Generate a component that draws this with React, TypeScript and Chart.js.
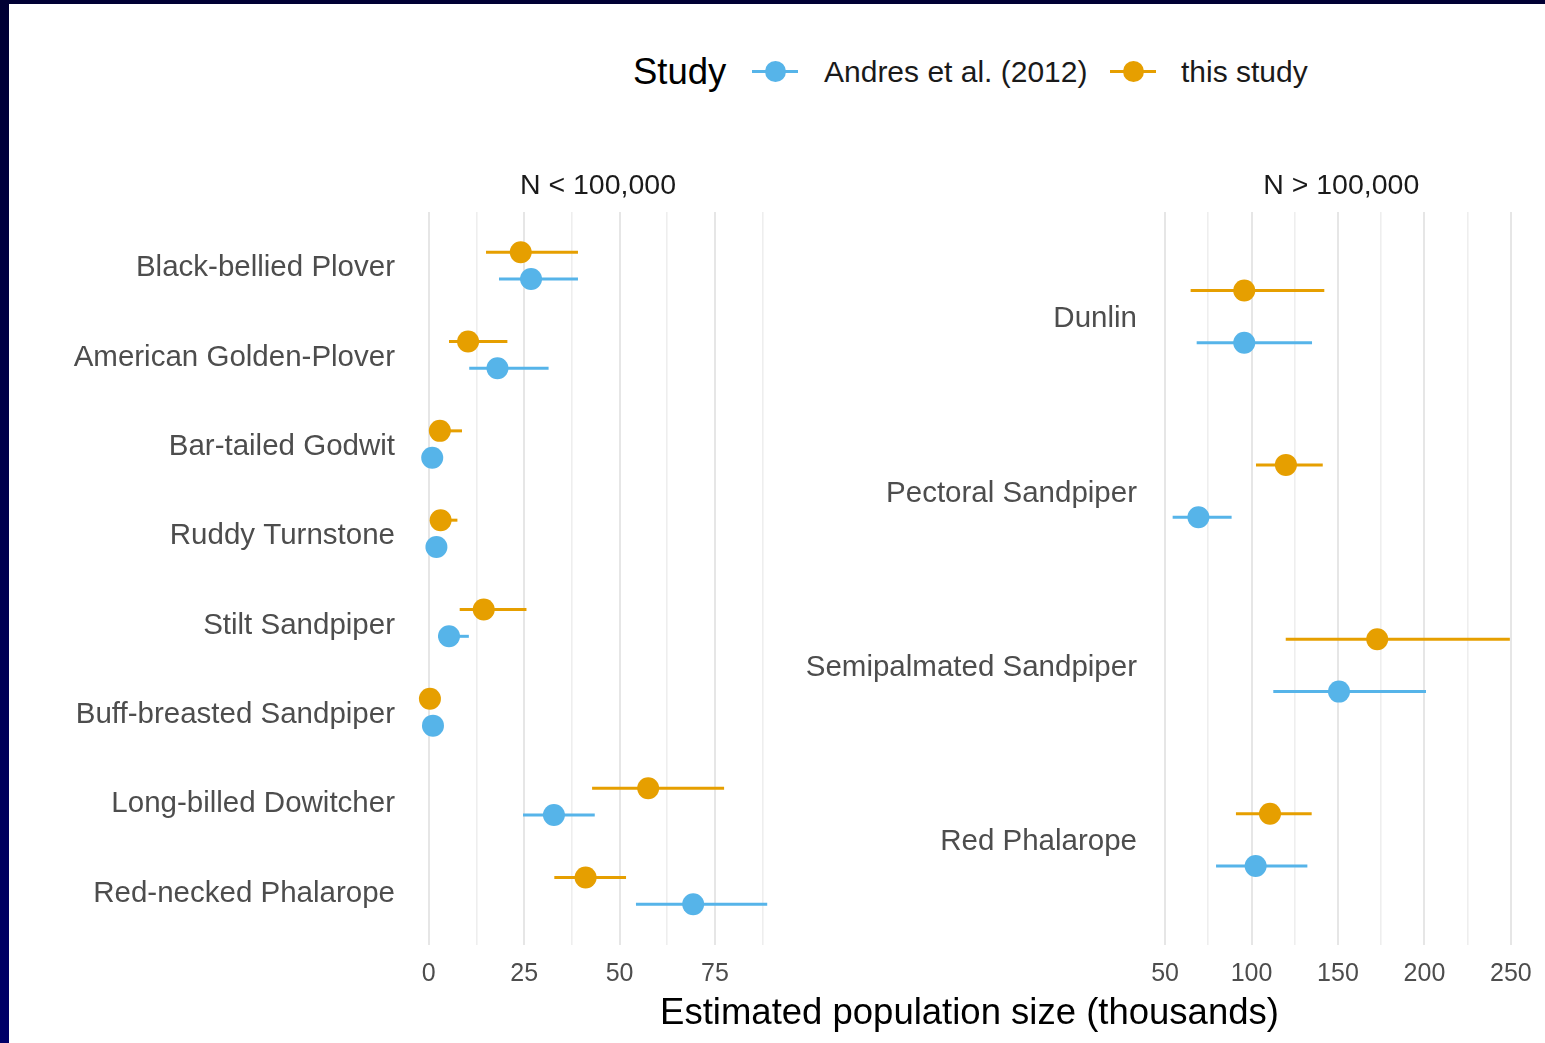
import React, { useEffect, useRef } from 'react';
import { Chart, registerables } from 'chart.js';

Chart.register(...registerables);

const FONT = "'Liberation Sans', Arial, Helvetica, sans-serif";
const BLUE = '#56B4E9';
const ORANGE = '#E69F00';

// ---- data (thousands) ----
const leftSpecies = [
  'Black-bellied Plover',
  'American Golden-Plover',
  'Bar-tailed Godwit',
  'Ruddy Turnstone',
  'Stilt Sandpiper',
  'Buff-breasted Sandpiper',
  'Long-billed Dowitcher',
  'Red-necked Phalarope',
];
const leftAndres = [26.8, 18.0, 0.9, 2.0, 5.3, 1.1, 32.8, 69.3];
const leftAndresLo = [18.4, 10.6, 0.5, 1.5, 2.5, 0.8, 24.7, 54.3];
const leftAndresHi = [39.1, 31.4, 1.3, 2.5, 10.5, 1.4, 43.5, 88.7];
const leftThis = [24.1, 10.3, 2.9, 3.1, 14.4, 0.3, 57.5, 41.1];
const leftThisLo = [15.0, 5.3, 1.0, 1.5, 8.1, 0.1, 42.8, 32.9];
const leftThisHi = [39.1, 20.6, 8.7, 7.5, 25.6, 0.6, 77.4, 51.7];

const rightSpecies = ['Dunlin', 'Pectoral Sandpiper', 'Semipalmated Sandpiper', 'Red Phalarope'];
const rightAndres = [95.8, 69.3, 150.6, 102.4];
const rightAndresLo = [68.3, 54.4, 112.6, 79.5];
const rightAndresHi = [135.0, 88.5, 200.9, 132.3];
const rightThis = [95.8, 119.9, 172.7, 110.7];
const rightThisLo = [64.8, 102.6, 119.8, 91.0];
const rightThisHi = [142.1, 141.2, 249.4, 134.8];

const leftMajorTicks = [0, 25, 50, 75];
const leftMinorTicks = [12.5, 37.5, 62.5, 87.5];
const rightMajorTicks = [50, 100, 150, 200, 250];
const rightMinorTicks = [75, 125, 175, 225];
const leftRange = [-4.4, 93.1];
const rightRange = [44.6, 259.2];

const facetTitles = ['N < 100,000', 'N > 100,000'];
const legendTitle = 'Study';
const legendLabels = ['Andres et al. (2012)', 'this study'];
const xTitle = 'Estimated population size (thousands)';

const DODGE = 0.15;

const errorBarPlugin = {
  id: 'errorBars',
  beforeDatasetsDraw(chart: any) {
    const { ctx } = chart;
    const xs = chart.scales.x;
    const ys = chart.scales.y;
    chart.data.datasets.forEach((ds: any) => {
      ctx.save();
      ctx.strokeStyle = ds.backgroundColor;
      ctx.lineWidth = 3;
      ctx.lineCap = 'butt';
      ds.data.forEach((p: any, i: number) => {
        const y = ys.getPixelForValue(p.y);
        ctx.beginPath();
        ctx.moveTo(xs.getPixelForValue(ds.errLo[i]), y);
        ctx.lineTo(xs.getPixelForValue(ds.errHi[i]), y);
        ctx.stroke();
      });
      ctx.restore();
    });
  },
};

type PanelProps = {
  species: string[];
  andres: number[];
  andresLo: number[];
  andresHi: number[];
  thisv: number[];
  thisLo: number[];
  thisHi: number[];
  majors: number[];
  minors: number[];
  range: number[];
  title: string;
  left: number;
  top: number;
  width: number;
  height: number;
  yAxisWidth: number;
  padRight: number;
  labelPad: number;
  plotBottom: number;
};

function Panel(p: PanelProps) {
  const ref = useRef<HTMLCanvasElement | null>(null);
  useEffect(() => {
    if (!ref.current) return;
    const all = [...p.majors, ...p.minors].sort((a, b) => a - b);
    const chart = new Chart(ref.current, {
      type: 'scatter',
      data: {
        datasets: [
          {
            label: legendLabels[0],
            data: p.andres.map((v, i) => ({ x: v, y: i + DODGE })),
            errLo: p.andresLo,
            errHi: p.andresHi,
            backgroundColor: BLUE,
            borderWidth: 0,
            pointRadius: 11,
            pointHoverRadius: 11,
            clip: false,
          } as any,
          {
            label: legendLabels[1],
            data: p.thisv.map((v, i) => ({ x: v, y: i - DODGE })),
            errLo: p.thisLo,
            errHi: p.thisHi,
            backgroundColor: ORANGE,
            borderWidth: 0,
            pointRadius: 11,
            pointHoverRadius: 11,
            clip: false,
          } as any,
        ],
      },
      options: {
        animation: false,
        responsive: false,
        events: [],
        layout: { autoPadding: false, padding: { left: 0, right: p.padRight, top: 0, bottom: 0 } },
        plugins: {
          legend: { display: false },
          tooltip: { enabled: false },
          title: {
            display: true,
            text: p.title,
            fullSize: false,
            color: '#1a1a1a',
            font: { family: FONT, size: 28.5, weight: 'normal', lineHeight: 1.2 },
            padding: { top: 18.6, bottom: 9.2 },
          },
        },
        scales: {
          x: {
            type: 'linear',
            min: p.range[0],
            max: p.range[1],
            afterBuildTicks: (scale: any) => {
              scale.ticks = all.map((v) => ({ value: v }));
            },
            afterFit: (scale: any) => {
              scale.height = p.height - p.plotBottom;
              scale.paddingLeft = 0;
              scale.paddingRight = 0;
            },
            ticks: {
              autoSkip: false,
              maxRotation: 0,
              padding: 15,
              color: '#4d4d4d',
              font: { family: FONT, size: 25 },
              callback: (v: any) => (p.majors.includes(Number(v)) ? String(v) : ''),
            },
            grid: {
              drawTicks: false,
              color: (c: any) => (p.majors.includes(c.tick?.value) ? '#e6e6e6' : '#eeeeee'),
              lineWidth: (c: any) => (p.majors.includes(c.tick?.value) ? 2 : 1.6),
            },
            border: { display: false },
          },
          y: {
            type: 'linear',
            reverse: true,
            min: -0.6,
            max: p.species.length - 1 + 0.6,
            afterBuildTicks: (scale: any) => {
              scale.ticks = p.species.map((_, i) => ({ value: i }));
            },
            afterFit: (scale: any) => {
              scale.width = p.yAxisWidth;
              scale.paddingTop = 0;
              scale.paddingBottom = 0;
            },
            ticks: {
              autoSkip: false,
              padding: p.labelPad,
              labelOffset: 2.5,
              color: '#4d4d4d',
              font: { family: FONT, size: 29.5 },
              callback: (v: any) => p.species[Math.round(Number(v))] ?? '',
            },
            grid: { display: false, drawTicks: false },
            border: { display: false },
          },
        },
      } as any,
      plugins: [errorBarPlugin],
    });
    return () => chart.destroy();
  }, []);
  return (
    <canvas
      ref={ref}
      width={p.width}
      height={p.height}
      style={{ position: 'absolute', left: p.left, top: p.top, width: p.width, height: p.height }}
    />
  );
}

function LegendKey({ x, y, color }: { x: number; y: number; color: string }) {
  return (
    <>
      <div style={{ position: 'absolute', left: x, top: y - 1.5, width: 46, height: 3, background: color }} />
      <div
        style={{
          position: 'absolute',
          left: x + 23 - 10.5,
          top: y - 10.5,
          width: 21,
          height: 21,
          borderRadius: '50%',
          background: color,
        }}
      />
    </>
  );
}

export default function App() {
  const textBase: React.CSSProperties = {
    position: 'absolute',
    fontFamily: FONT,
    whiteSpace: 'nowrap',
    lineHeight: 1.2,
  };
  return (
    <div
      style={{
        position: 'fixed',
        inset: 0,
        background: 'linear-gradient(#000034, #000068)',
        overflow: 'hidden',
      }}
    >
      <div style={{ position: 'absolute', left: 9, top: 4, right: 0, bottom: 0, background: '#ffffff' }} />
      <Panel
        species={leftSpecies}
        andres={leftAndres}
        andresLo={leftAndresLo}
        andresHi={leftAndresHi}
        thisv={leftThis}
        thisLo={leftThisLo}
        thisHi={leftThisHi}
        majors={leftMajorTicks}
        minors={leftMinorTicks}
        range={leftRange}
        title={facetTitles[0]}
        left={0}
        top={150}
        width={784}
        height={850}
        yAxisWidth={412}
        padRight={0}
        labelPad={17}
        plotBottom={794.5}
      />
      <Panel
        species={rightSpecies}
        andres={rightAndres}
        andresLo={rightAndresLo}
        andresHi={rightAndresHi}
        thisv={rightThis}
        thisLo={rightThisLo}
        thisHi={rightThisHi}
        majors={rightMajorTicks}
        minors={rightMinorTicks}
        range={rightRange}
        title={facetTitles[1]}
        left={800}
        top={150}
        width={745}
        height={850}
        yAxisWidth={355.7}
        padRight={18.2}
        labelPad={18.7}
        plotBottom={794.5}
      />
      <span style={{ ...textBase, left: 633, top: 50, fontSize: 36.5, color: '#000' }}>{legendTitle}</span>
      <LegendKey x={752} y={71} color={BLUE} />
      <span style={{ ...textBase, left: 824, top: 54, fontSize: 30, color: '#1a1a1a' }}>{legendLabels[0]}</span>
      <LegendKey x={1110} y={71} color={ORANGE} />
      <span style={{ ...textBase, left: 1181, top: 54, fontSize: 30, color: '#1a1a1a' }}>{legendLabels[1]}</span>
      <span
        style={{
          ...textBase,
          left: 969.5,
          top: 989.5,
          fontSize: 36.5,
          color: '#000',
          transform: 'translateX(-50%)',
        }}
      >
        {xTitle}
      </span>
    </div>
  );
}
